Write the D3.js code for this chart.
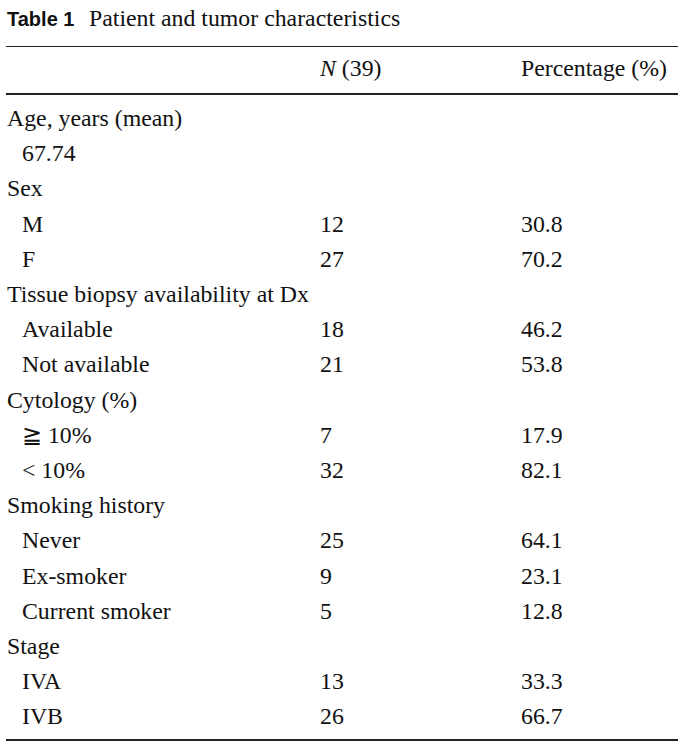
<!DOCTYPE html>
<html>
<head>
<meta charset="utf-8">
<script src="https://cdn.jsdelivr.net/npm/d3@7"></script>
<style>
  html, body { margin: 0; padding: 0; background: #fff; }
  svg { display: block; }
</style>
</head>
<body>
<svg id="chart" width="684" height="747"></svg>
<script>
// ---- data ----
const titleLabel = "Table 1";
const titleText = "Patient and tumor characteristics";
const headerN = ["N", " (39)"];
const headerPct = "Percentage (%)";
const rowLabels = [
  "Age, years (mean)", "67.74", "Sex", "M", "F",
  "Tissue biopsy availability at Dx", "Available", "Not available",
  "Cytology (%)", "\u2267 10%", "< 10%",
  "Smoking history", "Never", "Ex-smoker", "Current smoker",
  "Stage", "IVA", "IVB"
];
const rowIndent = [0, 1, 0, 1, 1, 0, 1, 1, 0, 1, 1, 0, 1, 1, 1, 0, 1, 1];
const nValues = ["", "", "", "12", "27", "", "18", "21", "", "7", "32", "", "25", "9", "5", "", "13", "26"];
const pctValues = ["", "", "", "30.8", "70.2", "", "46.2", "53.8", "", "17.9", "82.1", "", "64.1", "23.1", "12.8", "", "33.3", "66.7"];

// ---- layout ----
const svg = d3.select("#chart");
const serif = "'Liberation Serif', 'Times New Roman', Times, serif";
const fontSize = 23.8;
const ink = "#111";

const rows = rowLabels.map((l, i) => ({label: l, indent: rowIndent[i], n: nValues[i], pct: pctValues[i]}));

const y = d3.scaleLinear().domain([0, rows.length - 1]).range([126, 126 + 35.2 * (rows.length - 1)]);
const x = d3.scaleOrdinal().domain(["label", "indent", "n", "pct"]).range([7, 22, 320, 521]);

// title
const title = svg.append("text").attr("x", 7).attr("y", 26).attr("fill", ink);
title.append("tspan").attr("font-family", "'Liberation Sans', Arial, sans-serif").attr("font-weight", "bold").attr("font-size", 20).text(titleLabel);
title.append("tspan").attr("x", 89).attr("font-family", serif).attr("font-size", fontSize).text(titleText);

// rules
const ruleX0 = 6, ruleX1 = 678;
svg.append("line").attr("x1", ruleX0).attr("x2", ruleX1).attr("y1", 46.5).attr("y2", 46.5).attr("stroke", "#222").attr("stroke-width", 1.2);
svg.append("line").attr("x1", ruleX0).attr("x2", ruleX1).attr("y1", 94).attr("y2", 94).attr("stroke", "#222").attr("stroke-width", 2);
svg.append("line").attr("x1", ruleX0).attr("x2", ruleX1).attr("y1", 740).attr("y2", 740).attr("stroke", "#222").attr("stroke-width", 2);

// header
const hN = svg.append("text").attr("x", x("n")).attr("y", 76).attr("font-family", serif).attr("font-size", fontSize).attr("fill", ink);
hN.append("tspan").attr("font-style", "italic").text(headerN[0]);
hN.append("tspan").text(headerN[1]);
svg.append("text").attr("x", x("pct")).attr("y", 76).attr("font-family", serif).attr("font-size", fontSize).attr("fill", ink).text(headerPct);

// body
const g = svg.append("g").attr("font-family", serif).attr("font-size", fontSize).attr("fill", ink);
const row = g.selectAll("g.row").data(rows).join("g").attr("class", "row")
  .attr("transform", (d, i) => `translate(0,${y(i)})`);
row.append("text").attr("x", d => d.indent ? x("indent") : x("label")).text(d => d.label);
row.append("text").attr("x", x("n")).text(d => d.n);
row.append("text").attr("x", x("pct")).text(d => d.pct);
</script>
</body>
</html>
